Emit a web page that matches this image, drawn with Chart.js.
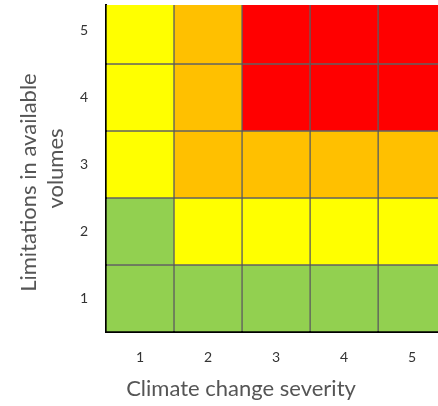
<!DOCTYPE html>
<html>
<head>
<meta charset="utf-8">
<script src="https://cdn.jsdelivr.net/npm/chart.js@4/dist/chart.umd.min.js"></script>
<style>
  html, body { margin: 0; padding: 0; background: #fff; overflow: hidden; }
  #wrap { width: 438px; height: 406px; }
</style>
</head>
<body>
<div id="wrap"><canvas id="riskMatrix"></canvas></div>
<script>
// Risk matrix: climate change severity vs limitations in available volumes
const severity = [1, 2, 3, 4, 5];
const limitations = [1, 2, 3, 4, 5];
// risk level per cell, rows from limitation 1 (bottom) to 5 (top)
const riskLevels = [
    [1, 1, 1, 1, 1],
    [1, 2, 2, 2, 2],
    [2, 3, 3, 3, 3],
    [2, 3, 4, 4, 4],
    [2, 3, 4, 4, 4]
];
const levelColors = ['#92D050', '#FFFF00', '#FFC000', '#FF0000'];

const cells = [];
const cellColors = [];
limitations.forEach((lim, r) => {
    severity.forEach((sev, c) => {
        cells.push({ x: sev, y: [lim - 0.5, lim + 0.5] });
        cellColors.push(levelColors[riskLevels[r][c] - 1]);
    });
});

const tickFont = { family: 'Lato', size: 14 };

new Chart(document.getElementById('riskMatrix'), {
    type: 'bar',
    data: {
        datasets: [{
            data: cells,
            backgroundColor: cellColors,
            borderColor: 'rgba(0,0,0,0.6)',
            borderWidth: 1,
            borderSkipped: false,
            barPercentage: 1,
            categoryPercentage: 1
        }]
    },
    options: {
        responsive: true,
        maintainAspectRatio: false,
        animation: false,
        layout: { padding: { top: 5, right: 0, left: 0, bottom: 0 } },
        plugins: {
            legend: { display: false },
            tooltip: { enabled: false }
        },
        scales: {
            x: {
                type: 'linear',
                min: 0.5,
                max: 5.38,
                offset: false,
                z: 1,
                afterFit: (scale) => {
                    scale.height = 74;
                    scale.paddingLeft = 0;
                    scale.paddingRight = 0;
                },
                ticks: {
                    stepSize: 1,
                    includeBounds: false,
                    color: '#333',
                    font: tickFont,
                    padding: 9
                },
                grid: { display: false },
                border: { display: true, color: '#000', width: 2 },
                title: {
                    display: true,
                    // trailing spaces pull the centred title left like the original
                    text: 'Climate change severity' + '           ',
                    color: '#555',
                    font: { family: 'Lato', size: 22 },
                    padding: { top: 7 }
                }
            },
            y: {
                type: 'linear',
                min: 0.5,
                max: 5.38,
                z: 1,
                afterFit: (scale) => {
                    scale.width = 106;
                    scale.paddingTop = 0;
                    scale.paddingBottom = 0;
                },
                ticks: {
                    stepSize: 1,
                    includeBounds: false,
                    color: '#333',
                    font: tickFont,
                    padding: 10
                },
                grid: { display: false },
                border: { display: true, color: '#000', width: 2 },
                title: {
                    display: true,
                    text: ['Limitations in available     ', 'volumes'],
                    color: '#555',
                    font: { family: 'Lato', size: 22, lineHeight: 1.2 },
                    padding: { top: 16 }
                }
            }
        }
    }
});
</script>
</body>
</html>
